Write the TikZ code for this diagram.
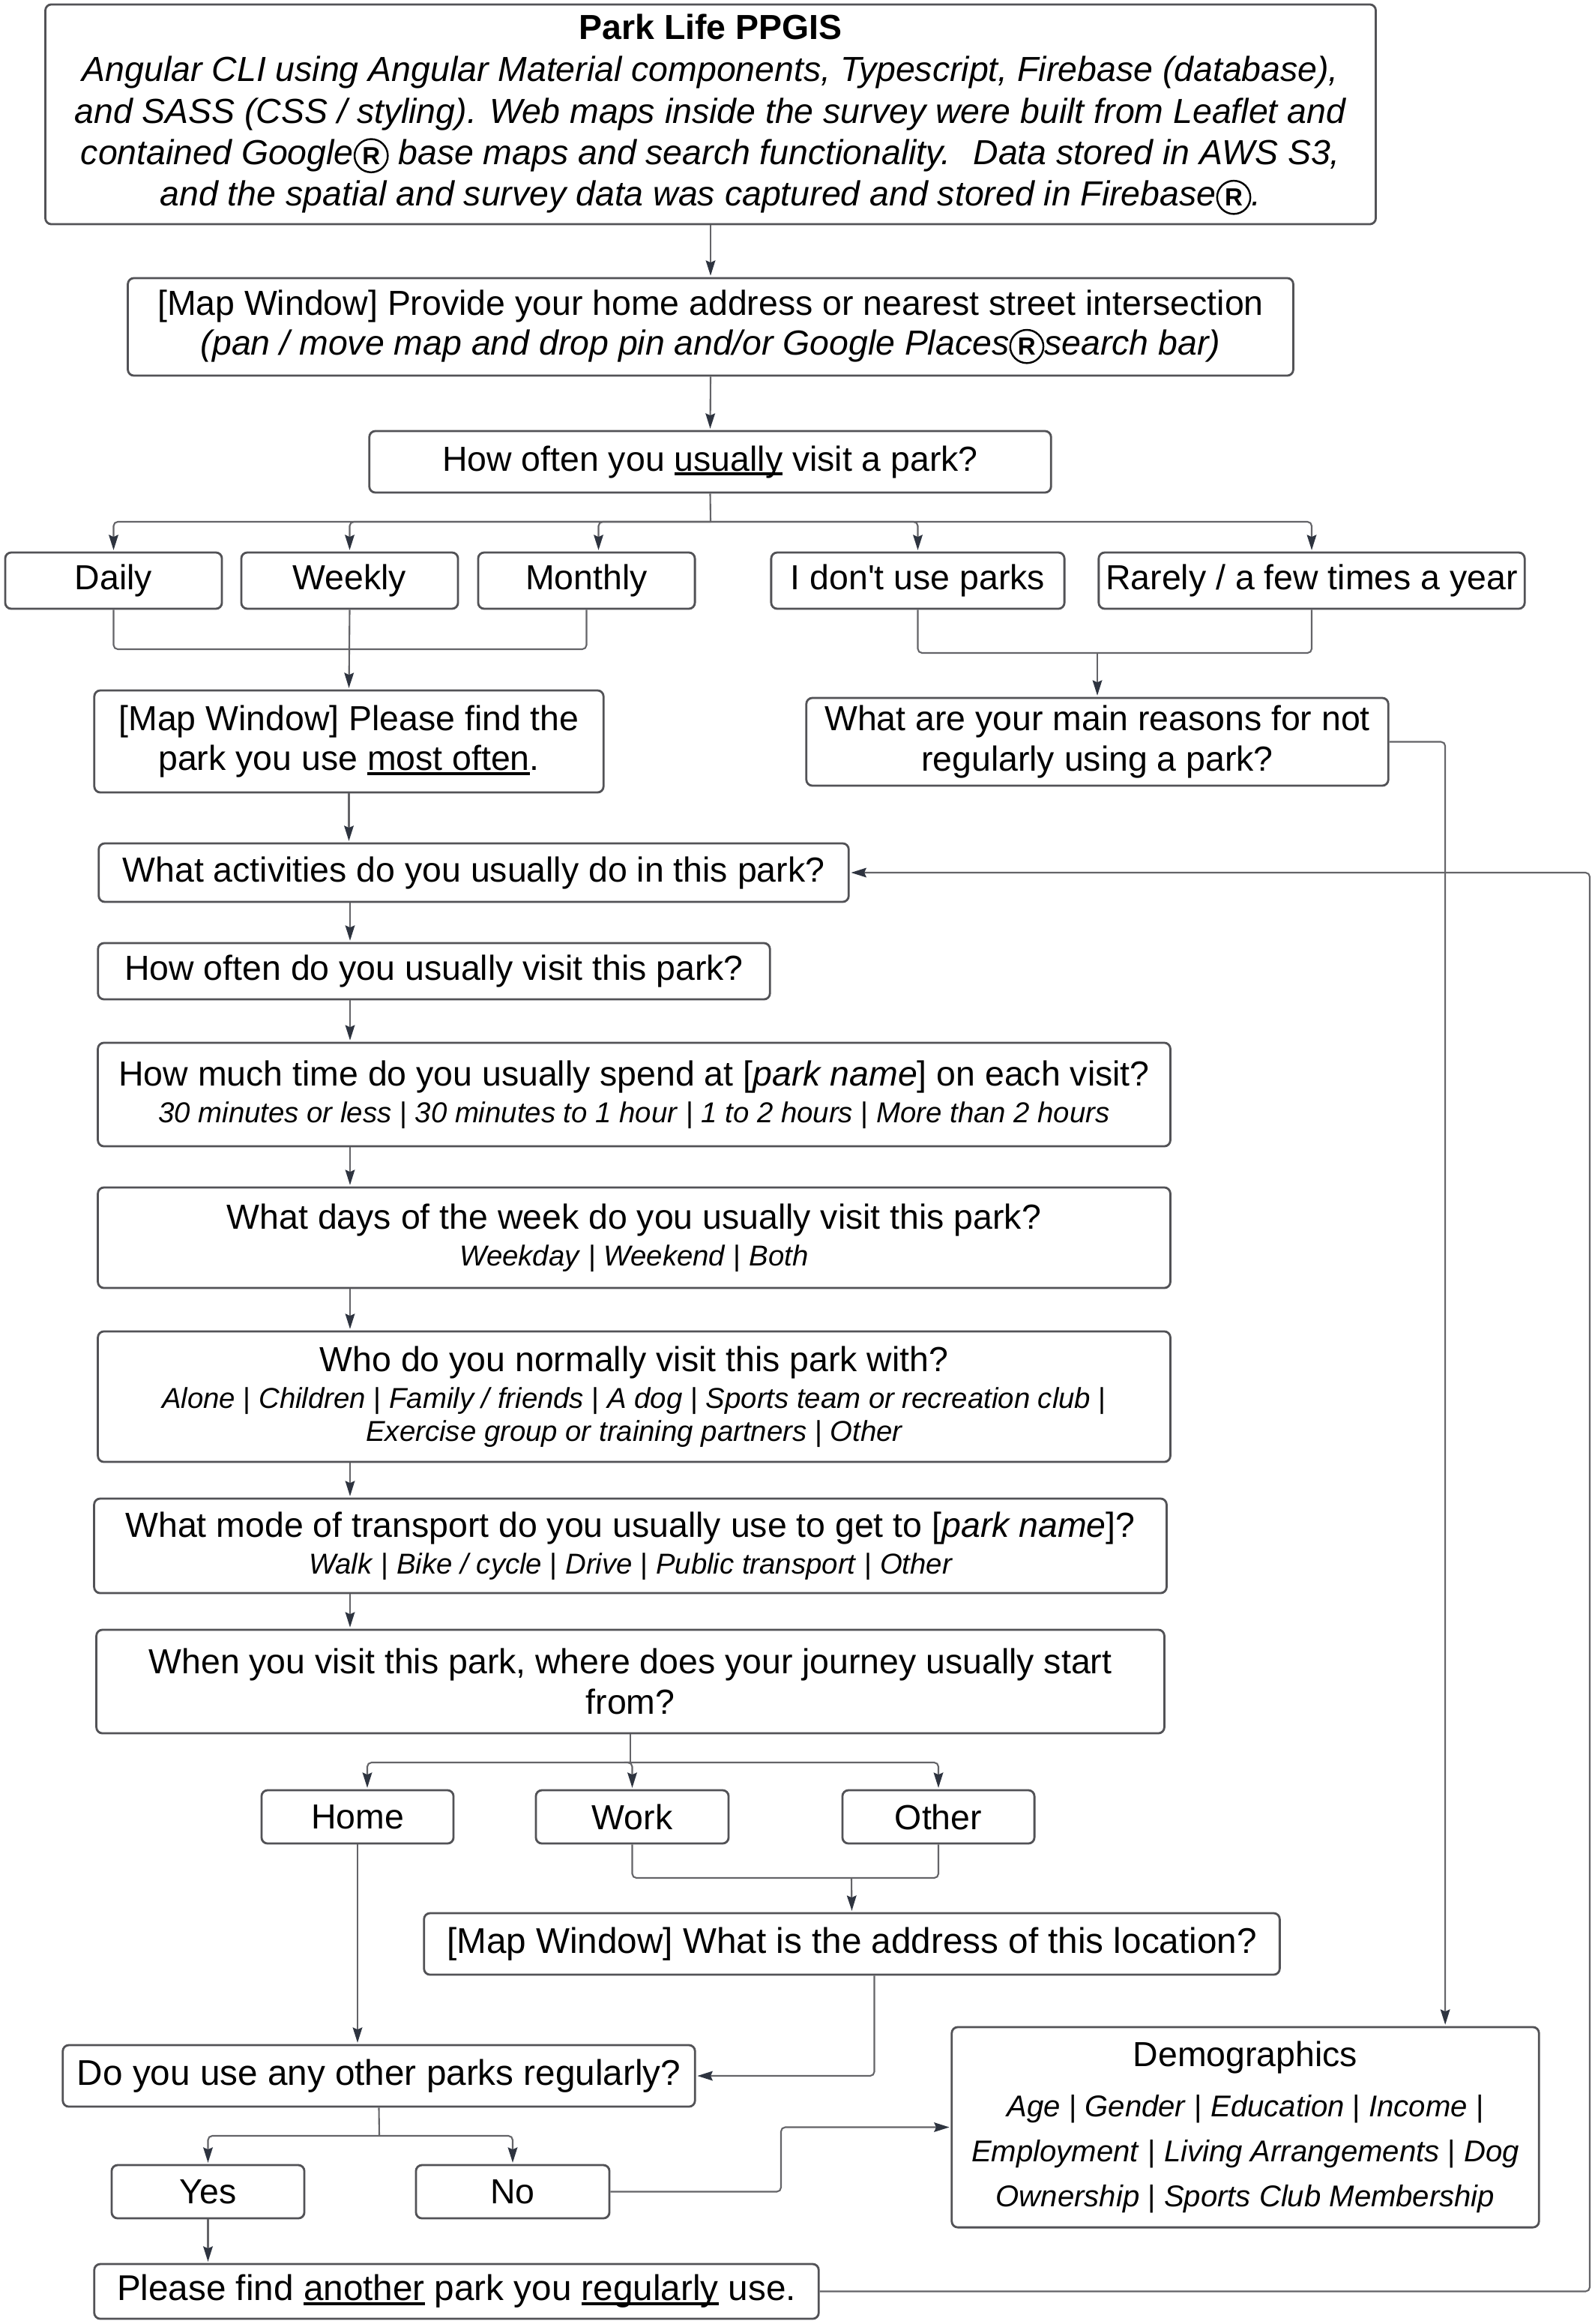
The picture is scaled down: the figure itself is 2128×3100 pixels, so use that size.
\documentclass[tikz,border=0pt]{standalone}
\usepackage{fontspec}
\usepackage{tikz}
\usetikzlibrary{arrows.meta}
\setmainfont{Liberation Sans}
\definecolor{boxGray}{RGB}{82,82,86}
\definecolor{lineGray}{RGB}{100,100,104}
\definecolor{tipDark}{RGB}{46,52,64}
\newcommand\mainfnt{\fontsize{13.2}{15.2}\selectfont}
\newcommand\bigfnt{\fontsize{13.55}{15.6}\selectfont}
\newcommand\optfnt{\fontsize{10.9}{12.5}\selectfont\itshape}
\newcommand\demfnt{\fontsize{11.4}{13}\selectfont\itshape}
\newcommand\regR{\tikz[baseline=(rr.base)]\node[draw=black,circle,line width=0.7pt,inner sep=0pt,minimum size=12.6pt,font=\fontsize{9.4}{10}\selectfont\bfseries\upshape] (rr) {R};}
\newcommand\orsep{\textup{ | }}
\newcommand\undl[1]{\setbox0=\hbox{#1}\makebox[0pt][l]{\rule[-0.13em]{\wd0}{0.08em}}\box0\relax}

\begin{document}
\begin{tikzpicture}[x=0.01cm, y=-0.01cm, line width=0.6pt,
        qbox/.style={draw=boxGray, line width=0.8pt, rounded corners=2.3pt, align=center, inner sep=0pt, font=\mainfnt},
        link/.style={draw=lineGray, rounded corners=1.6pt},
        arr/.style={link, -{Stealth[length=5.8pt,width=3.6pt,inset=0.8pt,color=tipDark]}, shorten >=0.5pt}]

        \useasboundingbox (0,0) rectangle (2128,3100);
        \fill[white] (0,0) rectangle (2128,3100);

        \node [qbox,minimum width=17.74cm,minimum height=2.93cm] at (948,152.5) (title) {\textbf{Park Life PPGIS}\\[0.8pt]
          \textit{Angular CLI using Angular Material components, Typescript, Firebase (database),}\\[0.8pt]
          \textit{and SASS (CSS / styling). Web maps inside the survey were built from Leaflet and}\\[0.3pt]
          \textit{contained Google\regR{} base maps and search functionality.~ Data stored in AWS S3,}\\[0.6pt]
          \textit{and the spatial and survey data was captured and stored in Firebase\regR.}};
        \node [qbox,minimum width=15.54cm,minimum height=1.30cm] at (948,436) (homeAddr) {[Map Window] Provide your home address or nearest street intersection\\
          \textit{(pan / move map and drop pin and/or Google Places\regR search bar)}};
        \node [qbox,minimum width=9.09cm,minimum height=0.82cm] at (947.5,616) (oftenQ) {How often you \undl{usually} visit a park?};

        \node [qbox,minimum width=2.89cm,minimum height=0.75cm] at (151.5,774.5) (daily) {Daily};
        \node [qbox,minimum width=2.89cm,minimum height=0.75cm] at (466.5,774.5) (weekly) {Weekly};
        \node [qbox,minimum width=2.89cm,minimum height=0.75cm] at (782.5,774.5) (monthly) {Monthly};
        \node [qbox,minimum width=3.91cm,minimum height=0.75cm] at (1224.5,774.5) (noParks) {I don\textquotesingle t use parks};
        \node [qbox,minimum width=5.68cm,minimum height=0.75cm] at (1750,774.5) (rarely) {Rarely / a few times a year};

        \node [qbox,minimum width=6.79cm,minimum height=1.36cm] at (465.5,989) (findPark) {[Map Window] Please find the\\park you use \undl{most often}.};
        \node [qbox,minimum width=7.76cm,minimum height=1.17cm] at (1464,989.5) (reasons) {What are your main reasons for not\\regularly using a park?};

        \node [qbox,minimum width=10.00cm,minimum height=0.78cm] at (632,1164) (activities) {What activities do you usually do in this park?};
        \node [qbox,minimum width=8.96cm,minimum height=0.75cm] at (579,1295.5) (visitFreq) {How often do you usually visit this park?};
        \node [qbox,minimum width=14.30cm,minimum height=1.38cm] at (846,1460) (timeSpent) {How much time do you usually spend at [\textit{park name}] on each visit?\\[-1.3pt]
          {\optfnt 30 minutes or less\orsep 30 minutes to 1 hour\orsep 1 to 2 hours\orsep More than 2 hours}};
        \node [qbox,minimum width=14.30cm,minimum height=1.34cm] at (846,1651) (days) {What days of the week do you usually visit this park?\\[-1.3pt]
          {\optfnt Weekday\orsep Weekend\orsep Both}};
        \node [qbox,minimum width=14.30cm,minimum height=1.74cm] at (846,1863) (company) {Who do you normally visit this park with?\\[-1.3pt]
          {\optfnt Alone\orsep Children\orsep Family / friends\orsep A dog\orsep Sports team or recreation club\textup{ |}}\\[-2.7pt]
          {\optfnt Exercise group or training partners\orsep Other}};
        \node [qbox,minimum width=14.30cm,minimum height=1.26cm] at (841,2062) (transport) {What mode of transport do you usually use to get to [\textit{park name}]?\\[-1.3pt]
          {\optfnt Walk\orsep Bike / cycle\orsep Drive\orsep Public transport\orsep Other}};
        \node [qbox,minimum width=14.24cm,minimum height=1.38cm] at (841,2243) (journey) {When you visit this park, where does your journey usually start\\from?};

        \node [qbox,minimum width=2.56cm,minimum height=0.71cm] at (477,2423.5) (home) {Home};
        \node [qbox,minimum width=2.57cm,minimum height=0.71cm] at (843.5,2423.5) (work) {Work};
        \node [qbox,minimum width=2.56cm,minimum height=0.71cm] at (1252,2423.5) (other) {Other};
        \node [qbox,font=\bigfnt,minimum width=11.41cm,minimum height=0.82cm] at (1136.5,2593) (addr) {[Map Window] What is the address of this location?};

        \node [qbox,font=\bigfnt,minimum width=8.43cm,minimum height=0.82cm] at (505.5,2769) (otherParks) {Do you use any other parks regularly?};
        \node [qbox,minimum width=2.57cm,minimum height=0.71cm] at (277.5,2923.5) (yes) {Yes};
        \node [qbox,minimum width=2.58cm,minimum height=0.71cm] at (684,2923.5) (no) {No};
        \node [qbox,minimum width=7.83cm,minimum height=2.67cm] at (1661.5,2837.5) (demog) {Demographics\\[3.8pt]
          {\demfnt Age\orsep Gender\orsep Education\orsep Income\textup{ |}}\\[1.8pt]
          {\demfnt Employment\orsep Living Arrangements\orsep Dog}\\[1.8pt]
          {\demfnt Ownership\orsep Sports Club Membership}};
        \node [qbox,font=\bigfnt,minimum width=9.66cm,minimum height=0.73cm] at (609,3056.5) (another) {Please find \undl{another} park you \undl{regularly} use.};

        \coordinate (forkA) at (948,696);
        \coordinate (mergeA) at (466.5,866);
        \coordinate (mergeB) at (1464,871);
        \coordinate (spine) at (467,0);
        \coordinate (forkB) at (841,2351);
        \coordinate (mergeC) at (1136,2505);
        \coordinate (forkC) at (506,2849);
        \coordinate (noBend) at (1042,0);
        \coordinate (loopBack) at (2121,0);

        \draw[arr] (title.south) -- (homeAddr.north);
        \draw[arr] (homeAddr.south) -- (oftenQ.north);
        \draw[link] (oftenQ.south) -- (forkA);
        \foreach \n in {daily,weekly,noParks,rarely}
          \draw[arr] (forkA) -| (\n.north);
        \draw[arr] (forkA) -| ([xshift=0.16cm]monthly.north);

        \draw[link] (daily.south) |- (mergeA);
        \draw[link] (monthly.south) |- (mergeA);
        \draw[arr] (weekly.south) -- (findPark.north);
        \draw[link] (noParks.south) |- (mergeB);
        \draw[link] (rarely.south) |- (mergeB);
        \draw[arr] (mergeB) -- (reasons.north);

        \draw[arr] (findPark.south) -- (findPark.south |- activities.north);
        \foreach \a/\b in {activities/visitFreq,visitFreq/timeSpent,timeSpent/days,days/company,company/transport,transport/journey}
          \draw[arr] (\a.south -| spine) -- (\b.north -| spine);

        \draw[link] (journey.south) -- (forkB);
        \draw[arr] (forkB) -| ([xshift=0.13cm]home.north);
        \draw[arr] (forkB) -| (work.north);
        \draw[arr] (forkB) -| (other.north);
        \draw[link] (work.south) |- (mergeC);
        \draw[link] (other.south) |- (mergeC);
        \draw[arr] (mergeC) -- (addr.north);

        \draw[arr] (home.south) -- (home.south |- otherParks.north);
        \draw[arr] ([xshift=0.3cm]addr.south) |- (otherParks.east);
        \draw[link] (otherParks.south) -- (forkC);
        \draw[arr] (forkC) -| (yes.north);
        \draw[arr] (forkC) -| (no.north);
        \draw[arr] (yes.south) -- (yes.south |- another.north);
        \draw[arr] (no.east) -| (noBend |- demog.west) -- (demog.west);

        \draw[arr] (reasons.east) -| ([xshift=2.665cm]demog.north);
        \draw[arr] (another.east) -| (loopBack |- activities.east) -- (activities.east);

      \end{tikzpicture}
\end{document}
